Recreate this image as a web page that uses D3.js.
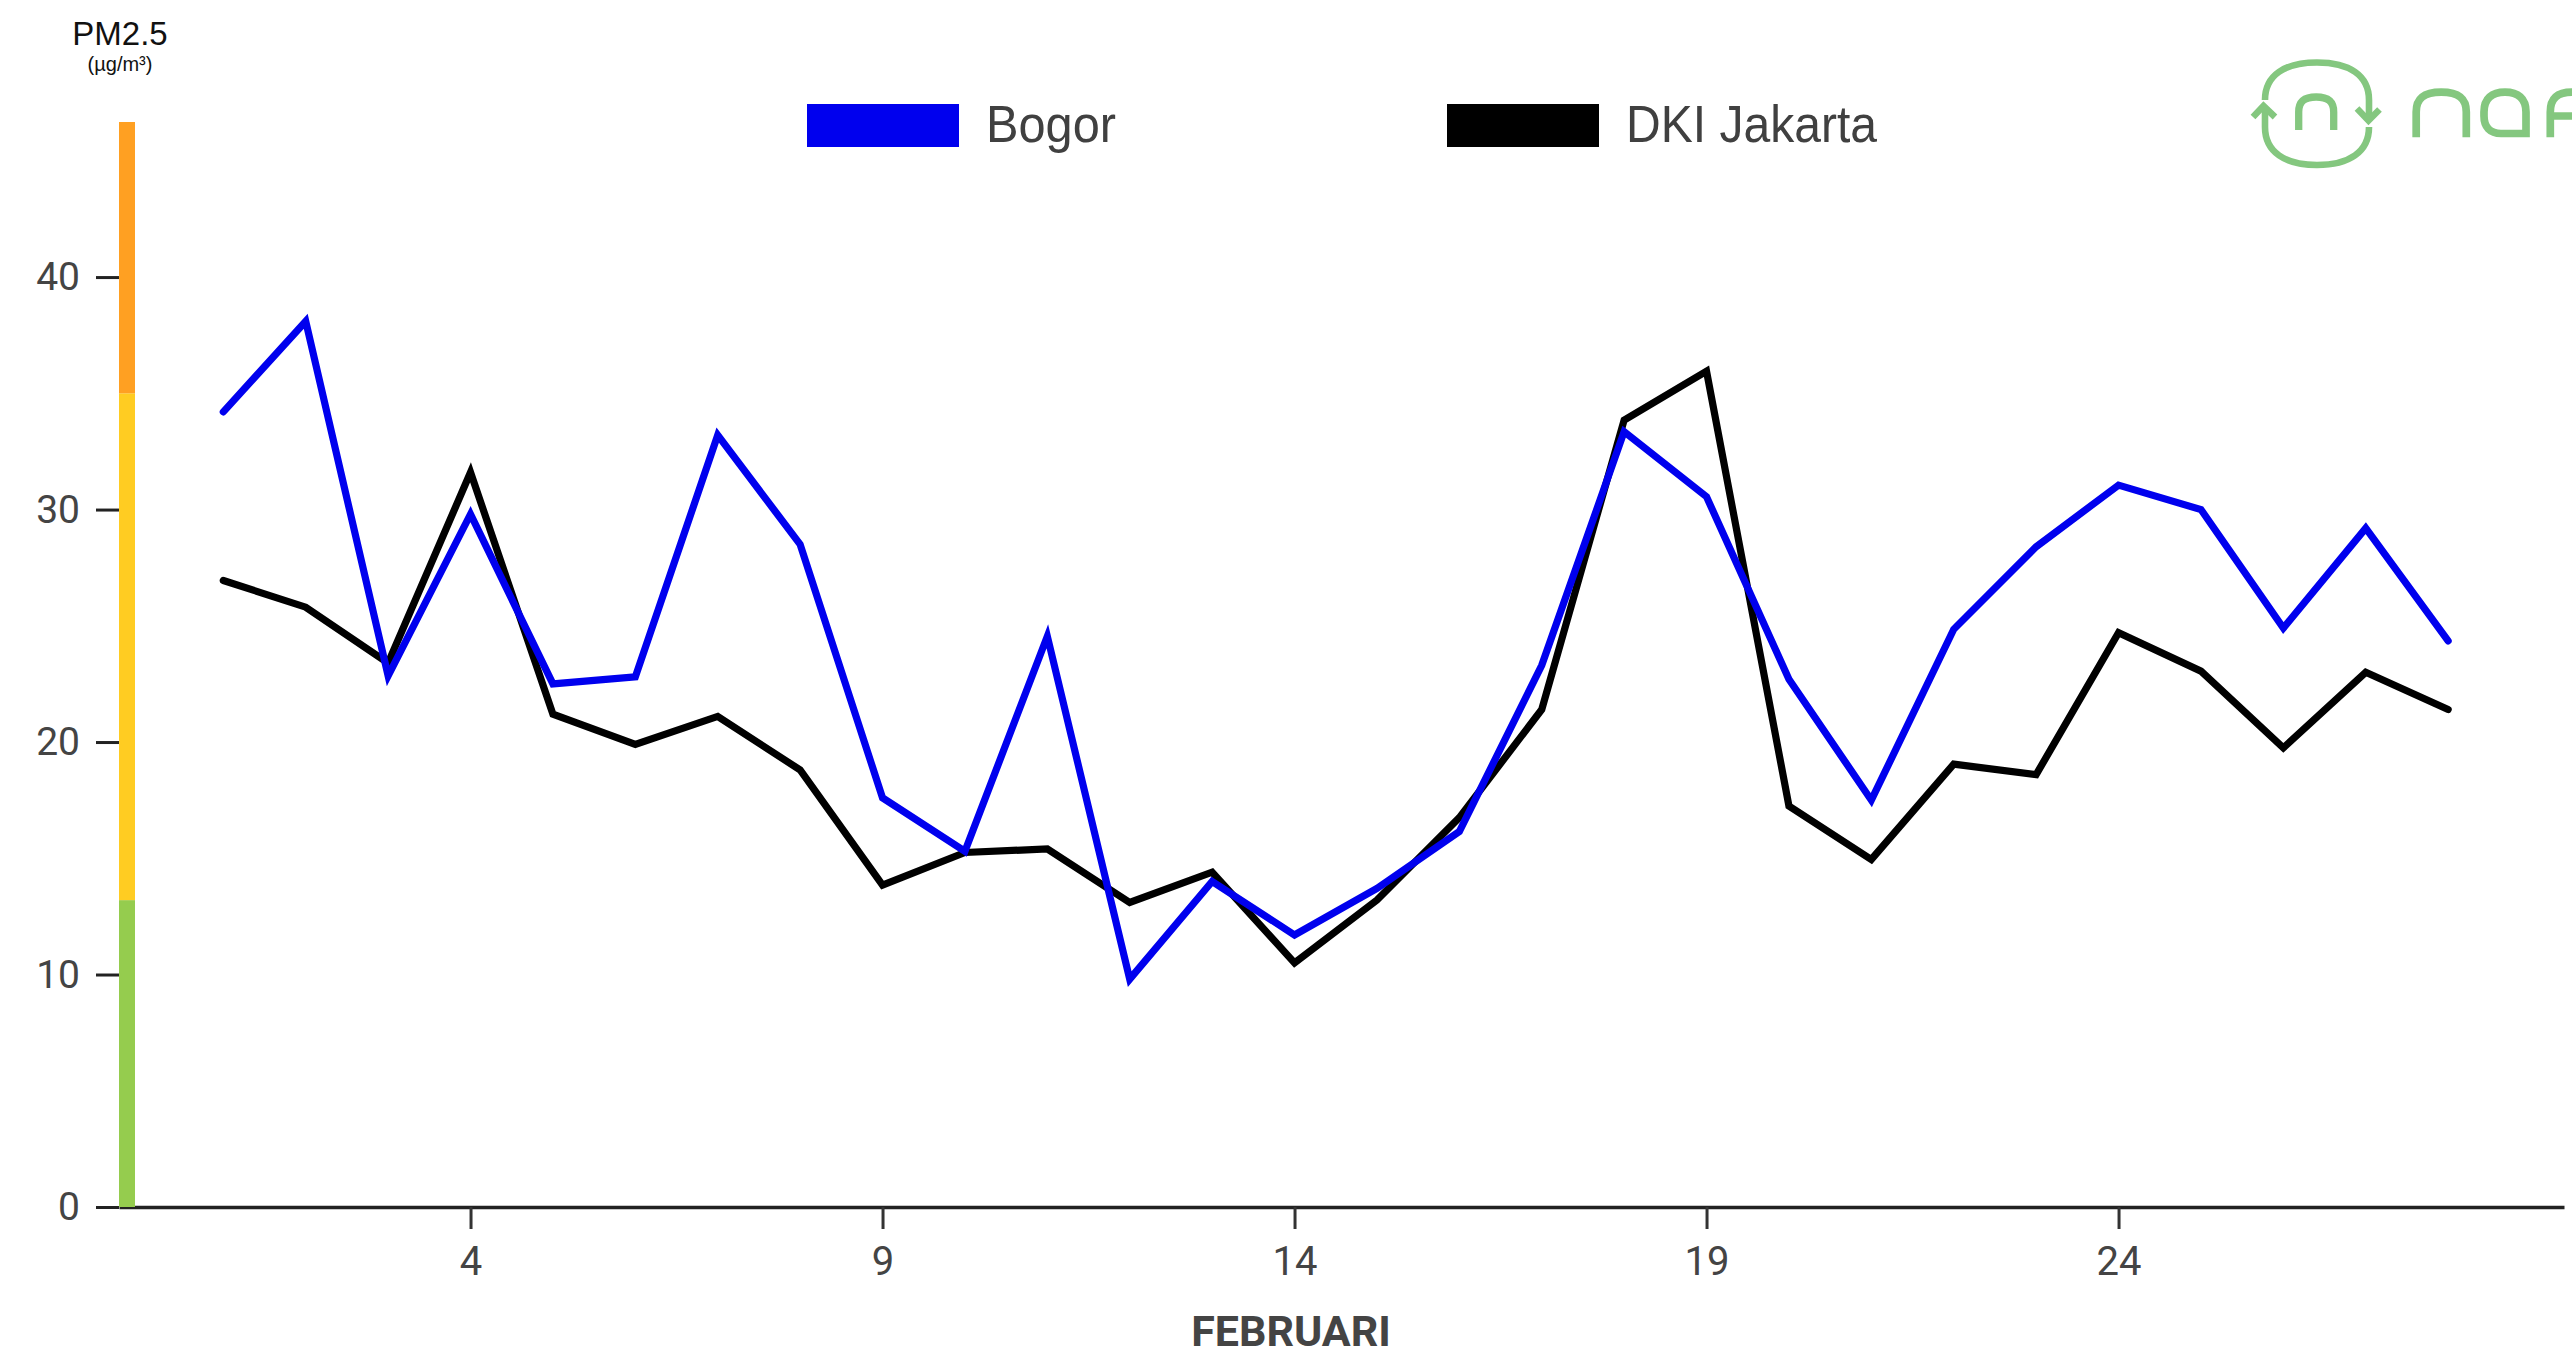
<!DOCTYPE html>
<html><head><meta charset="utf-8">
<script src="https://cdn.jsdelivr.net/npm/d3@7"></script>
<style>body{margin:0;background:#fff;overflow:hidden}</style>
</head><body><svg id="c" width="2572" height="1358" style="background:#fff"></svg>
<script>
const days = [1,2,3,4,5,6,7,8,9,10,11,12,13,14,15,16,17,18,19,20,21,22,23,24,25,26,27,28];
const bogor = [34.2,38.1,22.85,29.8,22.5,22.8,33.2,28.5,17.6,15.3,24.55,9.8,14.0,11.7,13.7,16.15,23.3,33.35,30.55,22.7,17.5,24.85,28.4,31.05,30.0,24.9,29.2,24.35];
const jakarta = [26.95,25.8,23.4,31.6,21.2,19.9,21.1,18.8,13.85,15.25,15.4,13.1,14.4,10.5,13.2,16.75,21.4,33.85,35.95,17.25,14.95,19.05,18.6,24.7,23.05,19.75,23.0,21.4];
const seriesNames = ["Bogor", "DKI Jakarta"];
const seriesColors = ["#0000ee", "#000000"];
const xTicks = [4, 9, 14, 19, 24];
const yTicks = [0, 10, 20, 30, 40];
const bandBreaks = [0, 13.2, 35, 46.67];
const bandColors = ["#95cc4e", "#ffcc22", "#ffa022"];
const xLabel = "FEBRUARI";
const yTitle = "PM2.5";
const yUnit = "(µg/m³)";

const svg = d3.select("#c");
const x = d3.scaleLinear().domain([-0.266, 29.406]).range([119, 2564]);
const y = d3.scaleLinear().domain([0, bandBreaks[bandBreaks.length-1]]).range([1207, 122]);

// x axis
const gx = svg.append("g").attr("transform", `translate(0,${y(0)})`)
  .call(d3.axisBottom(x).tickValues(xTicks).tickSize(22).tickPadding(18).tickSizeOuter(0));
gx.select(".domain").attr("stroke", "#222").attr("stroke-width", 3.5);
gx.selectAll(".tick line").attr("stroke", "#333").attr("stroke-width", 3);
gx.selectAll(".tick text").attr("fill", "#444").style("font-family", "Roboto, sans-serif").style("font-size", "40px");

// y axis
const gy = svg.append("g").attr("transform", `translate(${x.range()[0]},0)`)
  .call(d3.axisLeft(y).tickValues(yTicks).tickSize(23).tickPadding(16).tickSizeOuter(0));
gy.select(".domain").remove();
gy.selectAll(".tick line").attr("stroke", "#222").attr("stroke-width", 3);
gy.selectAll(".tick text").attr("fill", "#444").style("font-family", "Roboto, sans-serif").style("font-size", "39px");

// colored band bar on y axis
const bands = bandColors.map((c, i) => ({from: bandBreaks[i], to: bandBreaks[i+1], color: c}));
svg.append("g").selectAll("rect").data(bands).join("rect")
  .attr("x", x.range()[0]).attr("width", 16)
  .attr("y", d => y(d.to)).attr("height", d => y(d.from) - y(d.to))
  .attr("fill", d => d.color);

// lines
const line = d3.line().x((d, i) => x(days[i])).y(d => y(d));
[[jakarta, 1], [bogor, 0]].forEach(([vals, k]) => {
  svg.append("path").datum(vals).attr("d", line)
    .attr("fill", "none").attr("stroke", seriesColors[k]).attr("stroke-width", 7.2)
    .attr("stroke-linejoin", "miter").attr("stroke-linecap", "round");
});

// titles
svg.append("text").attr("x", 120).attr("y", 45).attr("text-anchor", "middle")
  .style("font-family", "'Liberation Sans', Arial, sans-serif").style("font-size", "33px").attr("fill", "#111").text(yTitle);
svg.append("text").attr("x", 120).attr("y", 71).attr("text-anchor", "middle")
  .style("font-family", "'Liberation Sans', Arial, sans-serif").style("font-size", "20px").attr("fill", "#111").text(yUnit);
svg.append("text").attr("x", 1291).attr("y", 1346).attr("text-anchor", "middle")
  .style("font-family", "Roboto, sans-serif").style("font-size", "43px").style("font-weight", "700").attr("fill", "#444").text(xLabel);

// legend
const legendX = [807, 1447];
const legendLen = [130, 251];
seriesNames.forEach((n, i) => {
  svg.append("rect").attr("x", legendX[i]).attr("y", 104).attr("width", 152).attr("height", 43).attr("fill", seriesColors[i]);
  svg.append("text").attr("x", legendX[i] + 179).attr("y", 142)
    .attr("textLength", legendLen[i]).attr("lengthAdjust", "spacingAndGlyphs")
    .style("font-family", "'Liberation Sans', Arial, sans-serif").style("font-size", "52px").attr("fill", "#404040").text(n);
});

// logo
const lg = svg.append("g").attr("fill", "none").attr("stroke", "#84c77f");
lg.append("path").attr("stroke-width", 6.6)
  .attr("d", "M2265,100 C2265,75 2285,62.5 2317,62.5 C2349,62.5 2369,75 2369,100 L2369,119");
lg.append("path").attr("stroke-width", 6.6).attr("d", "M2357,108.5 L2368.5,120.5 L2379.5,109.5");
lg.append("path").attr("stroke-width", 6.6)
  .attr("d", "M2369,127 C2369,152 2349,165 2317,165 C2285,165 2265,152 2265,127 L2265,107");
lg.append("path").attr("stroke-width", 6.6).attr("d", "M2253,117 L2263.5,106 L2275,117");
lg.append("path").attr("stroke-width", 7.3)
  .attr("d", "M2298.7,130 V112 C2298.7,101 2305,97 2316.2,97 C2327.4,97 2333.7,101 2333.7,112 V130");
lg.append("path").attr("stroke-width", 7.7)
  .attr("d", "M2416.2,137.3 V112 C2416.2,98 2424,92.2 2441.2,92.2 C2458.4,92.2 2466.3,98 2466.3,112 V137.3");
lg.append("path").attr("stroke-width", 7.7)
  .attr("d", "M2526,137.3 V112 C2526,98 2518,92.2 2505,92.2 C2492,92.2 2484,98 2484,112 V116 C2484,127 2490,133.5 2501,133.5 H2526");
lg.append("path").attr("stroke-width", 7.7)
  .attr("d", "M2550.3,137.3 V112 C2550.3,98 2558,92.2 2572,92.2 H2600");
lg.append("path").attr("stroke-width", 7.7).attr("d", "M2554,116 H2600");
</script></body></html>
